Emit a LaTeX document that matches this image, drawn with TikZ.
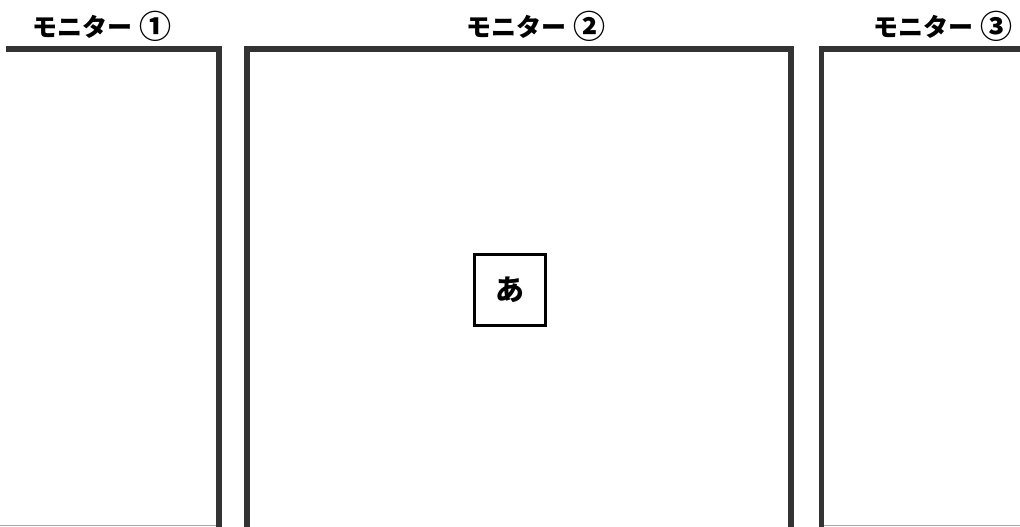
\documentclass[tikz,border=0pt]{standalone}
\usepackage{fontspec}
\newfontfamily\jp{Noto Sans CJK JP}
\definecolor{frame}{HTML}{333333}
\newcommand{\circnum}[1]{\hspace{7pt}{\fontsize{32}{32}\selectfont\raisebox{-1.5pt}{#1}}}
\begin{document}
\begin{tikzpicture}[x=1pt,y=-1pt,
  wall/.style={draw=frame,line width=5.5pt,line cap=rect},
  floor/.style={draw=gray!70,line width=1pt},
  lbl/.style={font=\jp\bfseries\fontsize{25}{25}\selectfont,inner sep=0pt,anchor=base},
  pane/.style={draw=black,line width=3pt,minimum width=71pt,minimum height=71pt,inner sep=0pt,font=\jp\bfseries\fontsize{29}{29}\selectfont}]
\useasboundingbox (0,0) rectangle (1020,527);
\fill[white] (0,0) rectangle (1020,527);
% monitor 1
\coordinate (m1a) at (9,49);
\coordinate (m1b) at (219,49);
\coordinate (m1c) at (219,530);
\draw[wall] (m1a) -- (m1b) -- (m1c);
\coordinate (m1d) at (0,525.5);
\coordinate (m1e) at (216,525.5);
\draw[floor] (m1d) -- (m1e);
% monitor 2
\coordinate (m2a) at (247,530);
\coordinate (m2b) at (247,49);
\coordinate (m2c) at (791,49);
\coordinate (m2d) at (791,530);
\draw[wall] (m2a) -- (m2b) -- (m2c) -- (m2d);
% monitor 3
\coordinate (m3a) at (821.5,530);
\coordinate (m3b) at (821.5,49);
\coordinate (m3c) at (1025,49);
\draw[wall] (m3a) -- (m3b) -- (m3c);
\coordinate (m3d) at (824,525.5);
\coordinate (m3e) at (1020,525.5);
\draw[floor] (m3d) -- (m3e);
% labels
\node[lbl] (l1) at (102,37) {モニター\circnum{①}};
\node[lbl] (l2) at (536,37) {モニター\circnum{②}};
\node[lbl] (l3) at (943,37) {モニター\circnum{③}};
% centre pane
\node[pane] (a) at (510,290) {あ};
\end{tikzpicture}
\end{document}
